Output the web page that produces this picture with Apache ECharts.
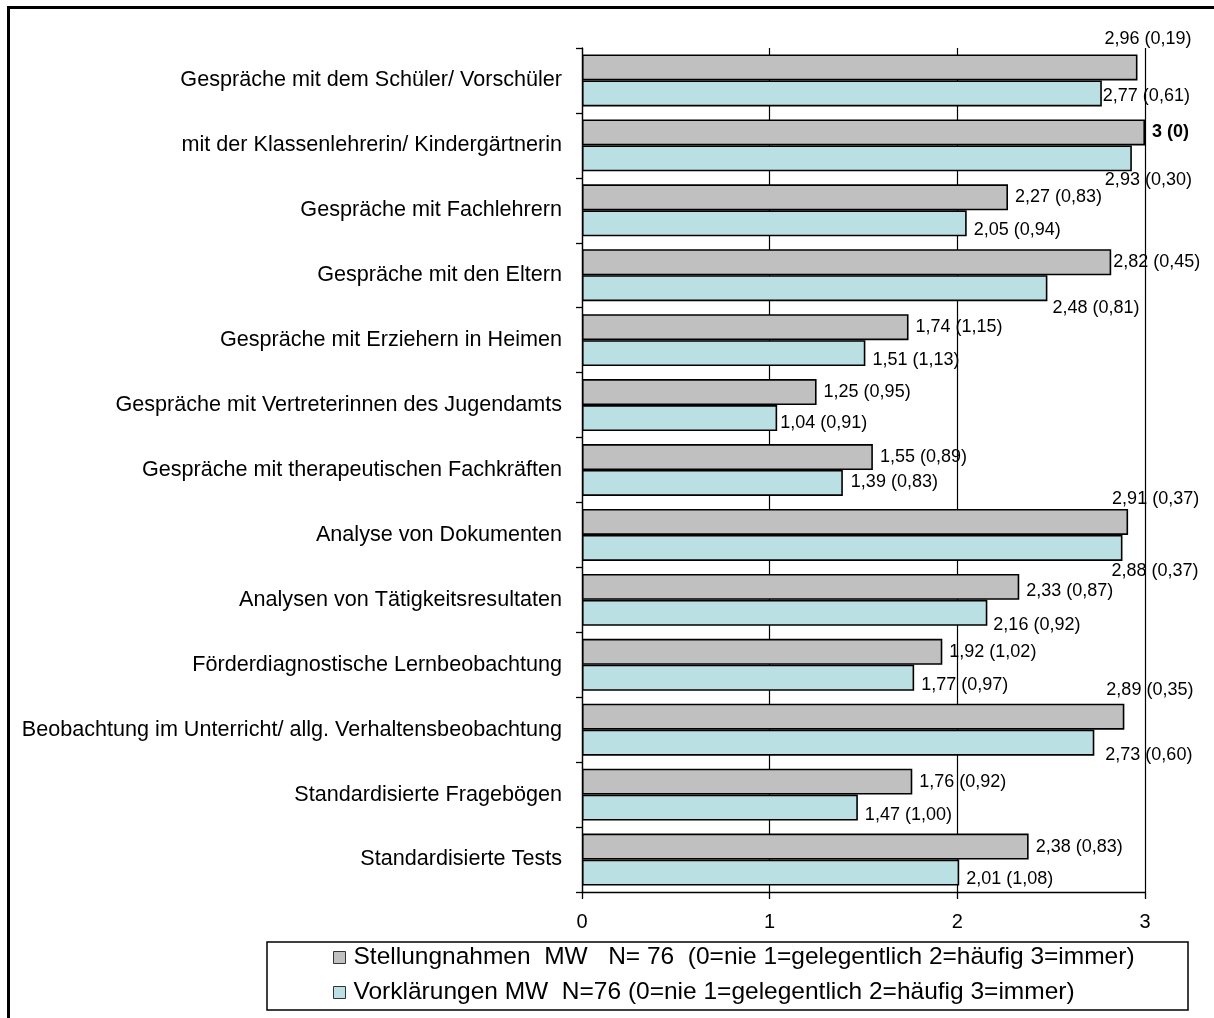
<!DOCTYPE html>
<html><head><meta charset="utf-8">
<script src="https://cdn.jsdelivr.net/npm/echarts@6/dist/echarts.min.js"></script>
<style>html,body{margin:0;padding:0;background:#fff}#c{width:1214px;height:1018px}</style>
</head><body><div id="c"></div>
<script>
const categories = [
  'Gespräche mit dem Schüler/ Vorschüler',
  'mit der Klassenlehrerin/ Kindergärtnerin',
  'Gespräche mit Fachlehrern',
  'Gespräche mit den Eltern',
  'Gespräche mit Erziehern in Heimen',
  'Gespräche mit Vertreterinnen des Jugendamts',
  'Gespräche mit therapeutischen Fachkräften',
  'Analyse von Dokumenten',
  'Analysen von Tätigkeitsresultaten',
  'Förderdiagnostische Lernbeobachtung',
  'Beobachtung im Unterricht/ allg. Verhaltensbeobachtung',
  'Standardisierte Fragebögen',
  'Standardisierte Tests'
];
const stellMean = [2.96, 3, 2.27, 2.82, 1.74, 1.25, 1.55, 2.91, 2.33, 1.92, 2.89, 1.76, 2.38];
const stellSD   = [0.19, 0, 0.83, 0.45, 1.15, 0.95, 0.89, 0.37, 0.87, 1.02, 0.35, 0.92, 0.83];
const vorkMean  = [2.77, 2.93, 2.05, 2.48, 1.51, 1.04, 1.39, 2.88, 2.16, 1.77, 2.73, 1.47, 2.01];
const vorkSD    = [0.61, 0.30, 0.94, 0.81, 1.13, 0.91, 0.83, 0.37, 0.92, 0.97, 0.60, 1.00, 1.08];
const xTickLabels = ['0', '1', '2', '3'];
const seriesNames = [
  'Stellungnahmen  MW   N= 76  (0=nie 1=gelegentlich 2=häufig 3=immer)',
  'Vorklärungen MW  N=76 (0=nie 1=gelegentlich 2=häufig 3=immer)'
];

// label nudges (layout only, pixel offsets of the value labels)
const stellNudge = {0:[-40,-28], 3:[-5,0], 7:[-23,-23], 8:[0,4], 10:[-25,-27]};
const vorkNudge  = {0:[-6,3], 1:[-34,22], 3:[-2,20], 5:[-4,5], 6:[1,-1], 7:[-18,23], 8:[-1,12], 10:[4,12]};

const FONT = "'Liberation Sans', Arial, sans-serif";
function fmtMean(v){ return Number.isInteger(v) ? String(v) : v.toFixed(2).replace('.', ','); }
function fmtSD(v){ return v === 0 ? '0' : v.toFixed(2).replace('.', ','); }

function buildData(means, sds, nudges, defOffset){
  return means.map((v, i) => ({
    value: v,
    label: {
      offset: nudges[i] || defOffset,
      fontWeight: Number.isInteger(v) ? 'bold' : 'normal',
      formatter: fmtMean(v) + ' (' + fmtSD(sds[i]) + ')'
    }
  }));
}

const chart = echarts.init(document.getElementById('c'), null, {renderer: 'canvas'});
const lineStyle = {color: '#000', width: 1.3};
chart.setOption({
  animation: false,
  backgroundColor: '#fff',
  textStyle: {fontFamily: FONT},
  grid: {left: 582, top: 48, right: 69, bottom: 126, containLabel: false},
  xAxis: {
    type: 'value', min: 0, max: 3, interval: 1, position: 'bottom',
    axisLine: {show: true, lineStyle: lineStyle},
    axisTick: {show: true, length: 7, lineStyle: lineStyle},
    axisLabel: {fontSize: 20, color: '#000', margin: 20, fontFamily: FONT,
      formatter: v => xTickLabels[Math.round(v)]},
    splitLine: {show: true, lineStyle: {color: '#000', width: 1.2}}
  },
  yAxis: {
    type: 'category', data: categories, inverse: true,
    axisLine: {show: true, lineStyle: lineStyle},
    axisTick: {show: true, length: 6, lineStyle: lineStyle},
    axisLabel: {fontSize: 21.6, color: '#000', margin: 20, fontFamily: FONT},
    splitLine: {show: false}
  },
  legend: {
    orient: 'vertical', left: 333, top: 945, itemGap: 10,
    itemWidth: 12, itemHeight: 12, icon: 'rect', padding: 0,
    itemStyle: {borderColor: '#333', borderWidth: 1},
    textStyle: {fontSize: 24.5, color: '#000', fontFamily: FONT, padding: [0, 0, 0, 3]},
    data: seriesNames
  },
  series: [
    {
      name: seriesNames[0], type: 'bar', barCategoryGap: '20%', barGap: '0%',
      itemStyle: {color: '#C0C0C0', borderColor: '#000', borderWidth: 1.6},
      label: {show: true, position: 'right', distance: 7, color: '#000', fontSize: 18, fontFamily: FONT},
      data: buildData(stellMean, stellSD, stellNudge, [0, 0])
    },
    {
      name: seriesNames[1], type: 'bar', barCategoryGap: '20%', barGap: '0%',
      itemStyle: {color: '#BBE0E3', borderColor: '#000', borderWidth: 1.6},
      label: {show: true, position: 'right', distance: 7, color: '#000', fontSize: 18, fontFamily: FONT},
      data: buildData(vorkMean, vorkSD, vorkNudge, [0, 7])
    }
  ],
  graphic: [
    {type: 'polyline', silent: true, shape: {points: [[8.5, 1018], [8.5, 7.5], [1214, 7.5]]},
     style: {stroke: '#000', lineWidth: 3, fill: null}},
    {type: 'rect', silent: true, shape: {x: 267, y: 942, width: 921, height: 68},
     style: {stroke: '#000', lineWidth: 1.5, fill: 'none'}}
  ]
});
</script></body></html>
